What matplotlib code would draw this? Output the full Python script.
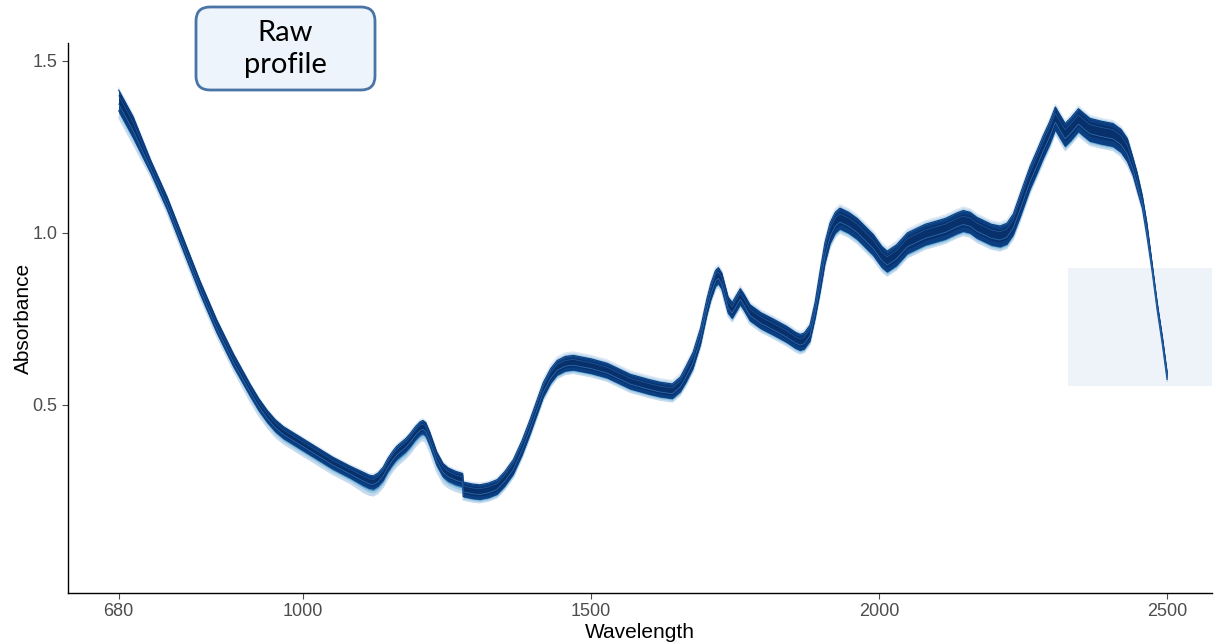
import matplotlib
matplotlib.use("Agg")
import matplotlib.pyplot as plt
import numpy as np
from matplotlib.patches import FancyBboxPatch, Rectangle

# ---- data ----
wavelength = [680, 705, 735, 764, 792, 821, 850, 879, 908, 923,
              938, 952, 966, 995, 1024, 1052, 1082, 1105, 1115, 1122,
              1130, 1139, 1147, 1155, 1162, 1168, 1178, 1186, 1195, 1203,
              1208, 1213, 1220, 1232, 1243, 1252, 1265, 1277, 1278, 1295,
              1307, 1322, 1337, 1350, 1365, 1380, 1394, 1417, 1430, 1441,
              1455, 1469, 1500, 1528, 1568, 1600, 1620, 1641, 1655, 1665,
              1677, 1690, 1701, 1708, 1716, 1721, 1727, 1738, 1745, 1752,
              1759, 1765, 1776, 1795, 1816, 1840, 1855, 1863, 1870, 1880,
              1889, 1898, 1906, 1915, 1924, 1932, 1947, 1962, 1990, 2005,
              2014, 2030, 2049, 2080, 2115, 2135, 2146, 2158, 2170, 2195,
              2210, 2222, 2233, 2245, 2262, 2275, 2285, 2296, 2306, 2314,
              2323, 2333, 2346, 2355, 2366, 2385, 2406, 2420, 2431, 2441,
              2448, 2457, 2465, 2474, 2483, 2492, 2500]
absorbance_mean = [1.385, 1.308, 1.195, 1.087, 0.967, 0.843, 0.730, 0.631, 0.544, 0.502,
                   0.467, 0.440, 0.420, 0.390, 0.360, 0.331, 0.305, 0.285, 0.277, 0.275,
                   0.283, 0.300, 0.325, 0.345, 0.360, 0.369, 0.383, 0.398, 0.418, 0.432,
                   0.436, 0.430, 0.402, 0.345, 0.311, 0.298, 0.288, 0.282, 0.255, 0.249,
                   0.247, 0.252, 0.262, 0.285, 0.320, 0.375, 0.436, 0.544, 0.585, 0.608,
                   0.620, 0.623, 0.613, 0.600, 0.568, 0.553, 0.545, 0.540, 0.560, 0.590,
                   0.630, 0.700, 0.785, 0.830, 0.868, 0.876, 0.860, 0.790, 0.775, 0.795,
                   0.815, 0.800, 0.768, 0.745, 0.727, 0.705, 0.688, 0.682, 0.686, 0.709,
                   0.776, 0.863, 0.942, 1.000, 1.030, 1.042, 1.030, 1.012, 0.965, 0.930,
                   0.917, 0.935, 0.970, 0.995, 1.012, 1.028, 1.035, 1.030, 1.015, 0.995,
                   0.990, 0.998, 1.025, 1.080, 1.160, 1.210, 1.250, 1.290, 1.333, 1.310,
                   1.285, 1.302, 1.328, 1.315, 1.300, 1.292, 1.285, 1.268, 1.241, 1.192,
                   1.150, 1.090, 1.009, 0.900, 0.785, 0.685, 0.585]

# spread of the sample spectra, by wavelength region (upper bound of region)
region_end = [705, 900, 1100, 1277, 1400, 1660, 1890, 2240, 2435, 2450, 2470, 2500]
band_half = [0.030, 0.018, 0.017, 0.019, 0.021, 0.021, 0.023, 0.030, 0.033, 0.025, 0.018, 0.011]
outer_below = [0.020, 0.012, 0.016, 0.020, 0.010, 0.010, 0.010, 0.012, 0.012, 0.008, 0.006, 0.005]
outer_above = [0.006, 0.004, 0.004, 0.005, 0.005, 0.010, 0.008, 0.010, 0.008, 0.006, 0.005, 0.003]

x_ticks = [680, 1000, 1500, 2000, 2500]
y_ticks = [0.5, 1.0, 1.5]
label_text = "Raw\nprofile"
highlight_x = (2328, 2600)
highlight_y = (0.555, 0.898)

# ---- figure ----
fig = plt.figure(figsize=(12.14, 6.44), dpi=100)
ax = fig.add_axes([68 / 1214, 51 / 644, (1212 - 68) / 1214, 550 / 644])

wl = np.array(wavelength)
m = np.array(absorbance_mean)
idx = np.searchsorted(np.array(region_end), wl)
h = np.array(band_half)[idx]
ob = np.array(outer_below)[idx]
oa = np.array(outer_above)[idx]

ax.add_patch(Rectangle((highlight_x[0], highlight_y[0]),
                       highlight_x[1] - highlight_x[0], highlight_y[1] - highlight_y[0],
                       facecolor="#EEF3FA", edgecolor="none", zorder=0))

# outer light spectra
ax.fill_between(wl, m - h - ob, m + h + oa, color="#C6DBEF", lw=0, zorder=1)
ax.plot(wl, m - h - ob, color="#C6DBEF", lw=1.0, zorder=1)
ax.plot(wl, m + h + oa, color="#DCE9F5", lw=1.0, zorder=1)
ax.fill_between(wl, m - h - ob * 0.6, m + h + oa * 0.5, color="#9ECAE1", lw=0, zorder=2)
ax.fill_between(wl, m - h - ob * 0.25, m + h + oa * 0.2, color="#4A90C8", lw=0, zorder=3)
# dense band
ax.fill_between(wl, m - h, m + h, color="#0B3F82", lw=0, zorder=4)
ax.plot(wl, m - h, color="#0B3F82", lw=0.8, zorder=4)
ax.plot(wl, m + h, color="#0B3F82", lw=0.8, zorder=4)
ax.fill_between(wl, m - h * 0.55, m + h * 0.7, color="#08306B", lw=0, zorder=5)
ax.plot(wl, m - h * 0.35, color="#2A6BB0", lw=0.6, zorder=6)
ax.plot(wl, m + h * 0.45, color="#1F5A9E", lw=0.5, zorder=6)

ax.set_xlim(592, 2578)
ax.set_ylim(-0.0465, 1.552)
ax.set_xticks(x_ticks)
ax.set_yticks(y_ticks)
ax.set_xticklabels([str(t) for t in x_ticks])
ax.set_yticklabels([f"{t:.1f}" for t in y_ticks])

for s in ["top", "right"]:
    ax.spines[s].set_visible(False)
for s in ["left", "bottom"]:
    ax.spines[s].set_color("black")
    ax.spines[s].set_linewidth(1.0)
ax.tick_params(axis="both", colors="#4D4D4D", labelsize=13, length=4, width=0.8,
               labelcolor="#4D4D4D")
for lab in ax.get_xticklabels() + ax.get_yticklabels():
    lab.set_family("Liberation Sans")

ax.set_xlabel("Wavelength", fontsize=15, family="Liberation Sans", color="black", labelpad=2)
ax.set_ylabel("Absorbance", fontsize=15, family="Liberation Sans", color="black", labelpad=0)

# label box (in inches from figure lower-left)
box = FancyBboxPatch((1.96, 5.54), 1.79, 0.83,
                     boxstyle="round,pad=0,rounding_size=0.14",
                     transform=fig.dpi_scale_trans,
                     facecolor="#EEF4FC", edgecolor="#4A74A6", lw=2.0, zorder=10)
fig.add_artist(box)
fig.text(2.855, 5.95, label_text, transform=fig.dpi_scale_trans,
         ha="center", va="center", fontsize=21, family="Lato", color="black",
         linespacing=1.32, zorder=11)

fig.savefig("out.png", dpi=100)
